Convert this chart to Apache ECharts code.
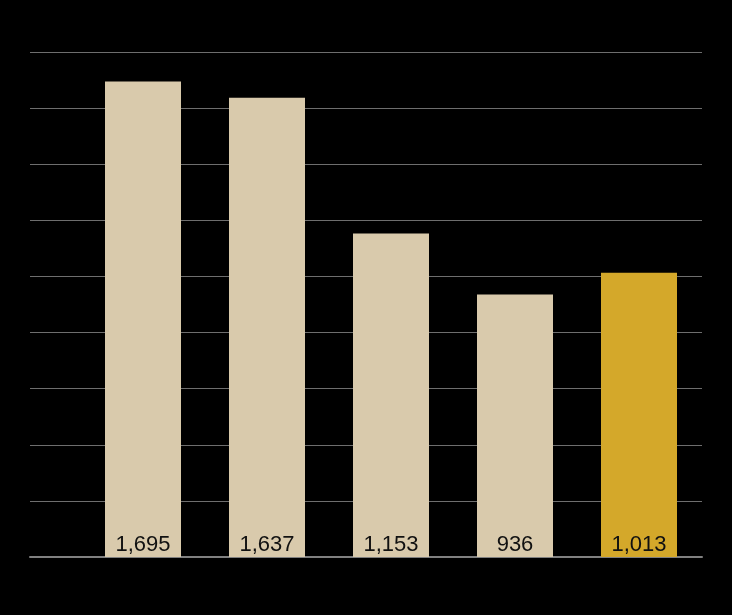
<!DOCTYPE html>
<html>
<head>
<meta charset="utf-8">
<script src="https://cdn.jsdelivr.net/npm/echarts@6/dist/echarts.min.js"></script>
<style>
html,body{margin:0;padding:0;background:#000;}
#chart{width:732px;height:615px;}
</style>
</head>
<body>
<div id="chart"></div>
<script>
const categories = ['A', 'B', 'C', 'D', 'E'];
const values = [1695, 1637, 1153, 936, 1013];
const highlightIndex = 4;
const yMin = 0, yMax = 1800, yInterval = 200;

const chart = echarts.init(document.getElementById('chart'));
chart.setOption({
  backgroundColor: '#000000',
  animation: false,
  grid: [
    {left: 81, right: 31, top: 52, bottom: 58},
    {left: 30, right: 30, top: 52, bottom: 58}
  ],
  xAxis: [
    {type: 'category', data: categories, gridIndex: 0,
     axisLine: {show: true, lineStyle: {color: '#808080', width: 2}},
     axisTick: {show: false}, axisLabel: {show: false}},
    {type: 'category', data: categories, gridIndex: 1,
     axisLine: {show: true, lineStyle: {color: '#808080', width: 2}},
     axisTick: {show: false}, axisLabel: {show: false}}
  ],
  yAxis: [
    {type: 'value', gridIndex: 0, min: yMin, max: yMax, interval: yInterval,
     axisLine: {show: false}, axisTick: {show: false}, axisLabel: {show: false},
     splitLine: {show: false}},
    {type: 'value', gridIndex: 1, min: yMin, max: yMax, interval: yInterval,
     axisLine: {show: false}, axisTick: {show: false}, axisLabel: {show: false},
     splitLine: {show: true, lineStyle: {color: '#6e6e6e', width: 1}}}
  ],
  series: [{
    type: 'bar',
    xAxisIndex: 0, yAxisIndex: 0,
    barWidth: 76,
    z: 3,
    data: values.map((v, i) => ({
      value: v,
      itemStyle: {color: i === highlightIndex ? '#D4A82A' : '#D9CAAC'}
    })),
    label: {
      show: true,
      position: 'insideBottom',
      distance: 1,
      color: '#111111',
      fontSize: 22,
      fontFamily: 'Liberation Sans, Arial, sans-serif',
      formatter: p => p.value.toLocaleString('en-US')
    }
  }]
});
</script>
</body>
</html>
